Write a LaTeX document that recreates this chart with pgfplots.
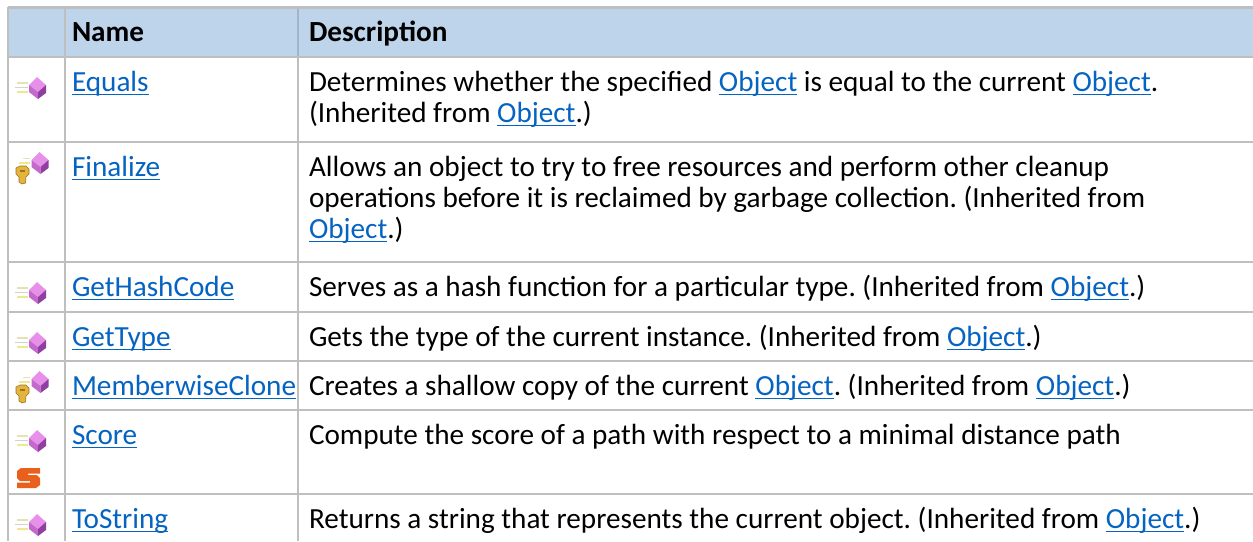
\documentclass[border=0pt]{standalone}
\usepackage{pgfplots}
\pgfplotsset{compat=1.18}
\usepackage{fontspec}
\setmainfont{Carlito}
\definecolor{hdr}{HTML}{BDD4EB}
\definecolor{gridc}{HTML}{BFBFBF}
\definecolor{lnk}{HTML}{0563C1}
\definecolor{cubeT}{HTML}{E88FEA}
\definecolor{cubeL}{HTML}{C468CC}
\definecolor{cubeR}{HTML}{8F3F9F}
\definecolor{keyc}{HTML}{E5B43C}
\definecolor{keyd}{HTML}{9A7420}
\definecolor{sor}{HTML}{E8601C}
\newcommand\lk[1]{\textcolor{lnk}{\setbox0\hbox{#1}\rlap{\rule[-4.4pt]{\wd0}{1.9pt}}\box0}}
\newcommand\gl[1]{\addplot[gridc,line width=2.6pt] coordinates {#1};}
% public-method icon (cube and motion lines), shifted down by #1 and right by #2
\newcommand\cube[2]{%
\addplot[fill=cubeT,draw=none,y filter/.expression={y+#1},x filter/.expression={x+#2}] coordinates {(37,77)(46,85)(38,92)(29,85)} --cycle;
\addplot[fill=cubeL,draw=none,y filter/.expression={y+#1},x filter/.expression={x+#2}] coordinates {(29,85)(38,92)(38,99)(29,92)} --cycle;
\addplot[fill=cubeR,draw=none,y filter/.expression={y+#1},x filter/.expression={x+#2}] coordinates {(38,92)(46,85)(46,93)(38,99)} --cycle;
}
\newcommand\mot[1]{%
\addplot[color=yellow!50!gray!45,line width=1.5pt,y filter/.expression={y+#1}] coordinates {(17,83)(28,83)};
\addplot[color=gray!35,line width=1.5pt,y filter/.expression={y+#1}] coordinates {(15,87.5)(28,87.5)};
\addplot[color=yellow!70!gray!55,line width=1.5pt,y filter/.expression={y+#1}] coordinates {(17,92)(28,92)};
}
% protected-method icon: cube, two motion lines and a key
\newcommand\keyicon[1]{%
\cube{#1+75}{2.5}
\addplot[color=yellow!50!gray!45,line width=1.5pt,y filter/.expression={y+#1}] coordinates {(23,158.5)(30,158.5)};
\addplot[color=yellow!70!gray!55,line width=1.5pt,y filter/.expression={y+#1}] coordinates {(19,163)(30,163)};
\addplot[fill=keyc,draw=keyd,line width=.6pt,y filter/.expression={y+#1}] coordinates {(16,168)(20,166)(26,166)(29,169)(29,174)(26,177)(25.5,183)(22,184)(19,182)(19,177)(16,174)} --cycle;
\addplot[fill=keyd,draw=none,y filter/.expression={y+#1}] coordinates {(19.5,170)(25,170)(25,172)(19.5,172)} --cycle;
}
\newcommand\txt[3]{\node[anchor=base west,inner sep=0pt,outer sep=0pt] at (axis cs:#1,#2) {#3};}
\begin{document}
\fontsize{29.2}{35}\selectfont\frenchspacing
\begin{tikzpicture}
\useasboundingbox (0,0) rectangle (1253pt,541pt);
\begin{axis}[hide axis,scale only axis,width=1253pt,height=541pt,
  xmin=0,xmax=1253,ymin=0,ymax=541,y dir=reverse,clip=true]
\addplot[fill=hdr,draw=none] coordinates {(8,7)(1253,7)(1253,57)(8,57)} --cycle;
\gl{(8,7.5)(1253,7.5)}
\gl{(8,57)(1253,57)}
\gl{(8,142)(1253,142)}
\gl{(8,262)(1253,262)}
\gl{(8,312)(1253,312)}
\gl{(8,361)(1253,361)}
\gl{(8,410)(1253,410)}
\gl{(8,494)(1253,494)}
\gl{(8,7)(8,541)}
\gl{(65,7)(65,541)}
\gl{(298,57)(298,541)}
\addplot[color=hdr!85!black,line width=1.3pt] coordinates {(298,9)(298,56)};
\mot{0}\cube{0}{0}
\mot{205}\cube{205}{0}
\mot{255}\cube{255}{0}
\mot{353}\cube{353}{0}
\mot{437}\cube{437}{0}
\keyicon{0}
\keyicon{219}
\addplot[fill=sor,draw=none] coordinates {(21,468)(40,468)(40,473.5)(28,473.5)(28,475)(37,475)(40,478)(40,485)(36,488)(17,488)(17,482.5)(30,482.5)(30,481)(20,481)(17,478)(17,471)} --cycle;
\txt{72}{41}{\textbf{Name}}
\txt{309}{41}{\textbf{Description}}
\txt{72}{91}{\lk{Equals}}
\txt{309}{91}{Determines whether the specified \lk{Object} is equal to the current \lk{Object}.}
\txt{309}{122}{(Inherited from \lk{Object}.)}
\txt{72}{176}{\lk{Finalize}}
\txt{309}{176}{Allows an object to try to free resources and perform other cleanup}
\txt{309}{207}{operations before it is reclaimed by garbage collection. (Inherited from}
\txt{309}{238}{\lk{Object}.)}
\txt{72}{296}{\lk{GetHashCode}}
\txt{309}{296}{Serves as a hash function for a particular type. (Inherited from \lk{Object}.)}
\txt{72}{346}{\lk{GetType}}
\txt{309}{346}{Gets the type of the current instance. (Inherited from \lk{Object}.)}
\txt{72}{395}{\lk{MemberwiseClone}}
\txt{309}{395}{Creates a shallow copy of the current \lk{Object}. (Inherited from \lk{Object}.)}
\txt{72}{444}{\lk{Score}}
\txt{309}{444}{Compute the score of a path with respect to a minimal distance path}
\txt{72}{528}{\lk{ToString}}
\txt{309}{528}{Returns a string that represents the current object. (Inherited from \lk{Object}.)}
\end{axis}
\end{tikzpicture}
\end{document}
